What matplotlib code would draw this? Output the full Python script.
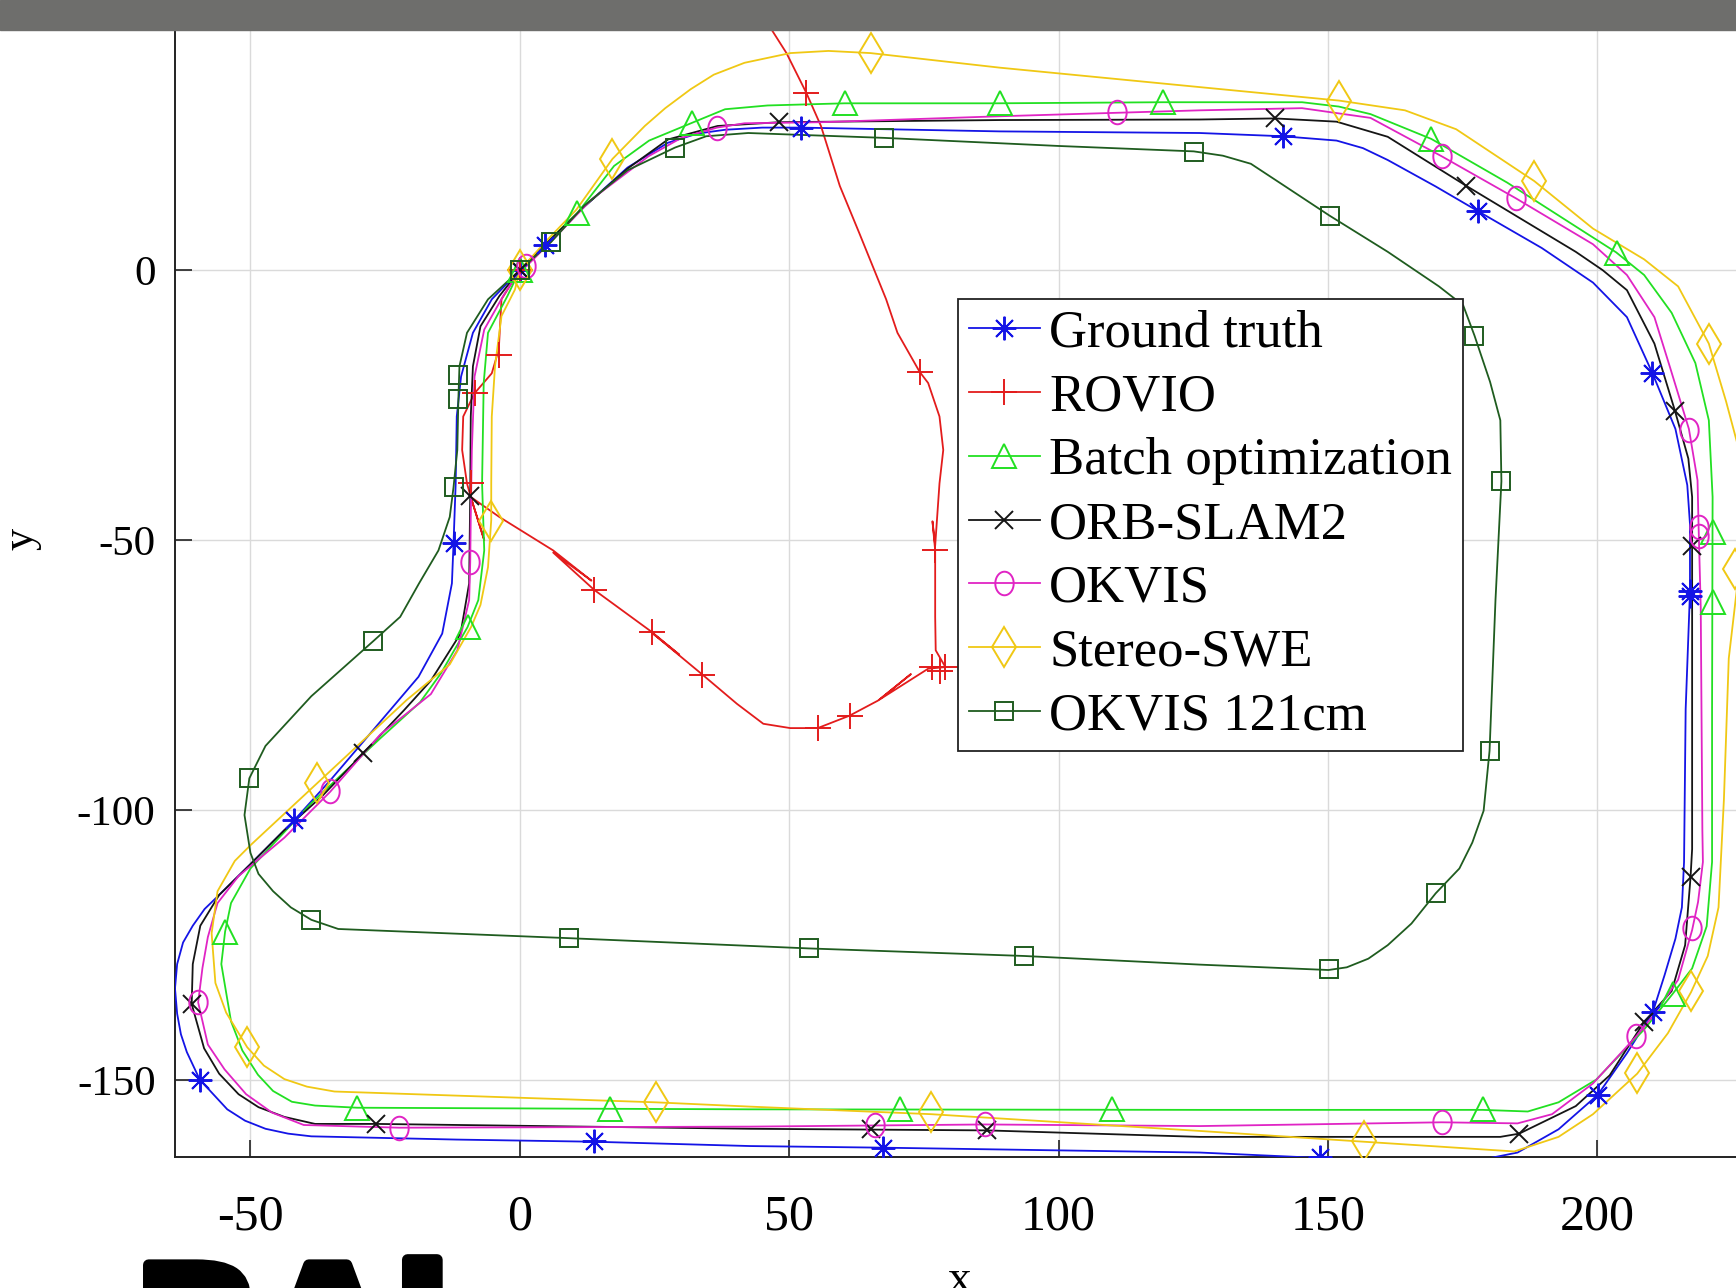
import matplotlib
matplotlib.use("Agg")
import matplotlib.pyplot as plt
import matplotlib.patheffects as pe
import numpy as np
from matplotlib.lines import Line2D
from matplotlib.patches import Rectangle
from matplotlib.path import Path

plt.rcParams["axes.unicode_minus"] = False

# trajectories (x, y), plus the points that carry markers
gt_path = [(0, 0), (4.6, 4.6), (12, 11.8), (20, 19.0), (27.5, 23.6), (33, 25.3), (38.1, 26.0), (45, 26.4),
           (52.2, 26.4), (89.1, 25.7), (126.2, 25.4), (141.6, 24.8), (151.6, 24.0), (156.5, 22.6), (161.1, 20.4),
           (170, 15.5), (177.9, 10.9), (189.7, 4.1), (199.2, -2.3), (205.5, -8.7), (210.2, -19.0), (214.5, -29.4),
           (216.7, -39.8), (217.2, -47), (217.2, -59.6), (216.4, -81.3), (216.1, -109.6), (215.7, -118),
           (214.5, -123.8), (212.5, -130.5), (210.3, -137.4), (205.5, -145), (200.1, -152.7), (192.8, -159.1),
           (185.2, -163.4), (178.2, -164.8), (148.5, -164.4), (126.2, -163.4), (67.4, -162.5), (42.8, -162.2),
           (13.8, -161.4), (-11.7, -161.0), (-38.7, -160.4), (-43, -159.9), (-47.2, -159.0), (-51, -157.5),
           (-54.3, -155.4), (-59.4, -149.9), (-61.8, -144.8), (-62.9, -141.5), (-63.6, -137.7), (-64, -133),
           (-63.6, -128.5), (-62.5, -124.5), (-60.7, -121.4), (-58.5, -118.3), (-55.8, -115.7), (-50.0, -110.0),
           (-41.9, -101.9), (-35.2, -94.5), (-27.5, -85.5), (-18.8, -75.3), (-14.4, -67.3), (-12.6, -58),
           (-12.3, -50.6), (-11.9, -39.5), (-11.7, -27.1), (-10.9, -19.7), (-8.7, -11.6), (-5.2, -5.4), (0, 0)]
gt_marks = [(4.6, 4.6), (52.2, 26.4), (141.6, 24.8), (177.9, 10.9), (210.2, -19.0), (217.2, -59.4),
            (217.2, -60.3), (210.3, -137.4), (200.1, -152.7), (148.5, -164.2), (67.4, -162.5), (13.8, -161.3),
            (-59.4, -149.9), (-41.9, -101.9), (-12.3, -50.5), (0, 0)]

rovio_path = [(0, 0), (-3.4, -5.4), (-3.9, -14.7), (-5.2, -19.1), (-8.4, -22.8), (-10.5, -27.1), (-10.7, -33.3),
              (-9.8, -39.5), (-9.1, -42.0), (-6.6, -50.0), (-9.1, -42.0), (-3.8, -45.7), (6.2, -51.9),
              (13.3, -57.5), (6.2, -52.3), (13.8, -59.2), (24.5, -67.0), (29.6, -71.2), (24.6, -67.2),
              (33.9, -74.9), (40.3, -80.3), (45.2, -84.0), (50.2, -84.8), (55.3, -84.8), (61.2, -82.5),
              (66.5, -79.7), (72.6, -74.8), (66.8, -79.5), (75.8, -73.8), (79.0, -73.5), (77.2, -70.4),
              (77.1, -64.2), (77.1, -51.9), (76.6, -46.5), (77.1, -51.0), (77.9, -39.5), (78.6, -33.3),
              (77.9, -27.1), (75.8, -20.9), (74.2, -18.8), (70.1, -11.6), (68.0, -5.4), (63.0, 6.9),
              (59.4, 15.6), (55.9, 26.7), (53.2, 32.8), (49.5, 40.2), (46.7, 44.6), (45.0, 48)]
rovio_marks = [(53.2, 32.8), (74.2, -18.8), (77.1, -51.9), (76.5, -73.5), (78.0, -74.3), (79.0, -73.5),
               (61.2, -82.5), (55.3, -84.8), (33.9, -74.9), (24.5, -67.0), (13.8, -59.2), (-8.4, -22.8),
               (-3.9, -15.8), (-9.1, -39.5), (0, 0)]

batch_path = [(0, 0), (4.5, 4.6), (10.7, 10.6), (17.5, 19.3), (24, 24), (32, 27.3), (38.1, 29.8), (46, 30.5),
              (60.3, 30.9), (88.6, 30.9), (119.3, 31.1), (145.2, 31.1), (152, 30.3), (157.9, 28.9), (169.2, 24.3),
              (183.3, 16.2), (203.5, 3.3), (208.7, -0.9), (213.8, -7.9), (218.2, -17.2), (220.7, -27.8),
              (221.4, -42), (221.3, -81.3), (221.3, -109.6), (220.3, -121.5), (217.6, -129.3), (214, -134),
              (208.7, -140.6), (199.8, -149.9), (192.8, -154.1), (187.1, -155.8), (178.7, -155.5),
              (126.2, -155.5), (42.8, -155.4), (16.7, -155.3), (-30.2, -155.1), (-38, -154.7), (-42.3, -154),
              (-45.8, -152), (-48.6, -149), (-51.5, -144.5), (-53.6, -139.1), (-55.4, -128.5), (-54.7, -122.5),
              (-53.6, -117.2), (-50, -110.8), (-38.7, -98.7), (-25.9, -86.7), (-18.5, -80.0), (-14.6, -74.6),
              (-9.7, -66.1), (-7.7, -61.1), (-6.6, -51.9), (-7, -39.5), (-6.7, -20.9), (-5.9, -11.6),
              (-2.3, -4.8), (0, 0)]
batch_marks = [(10.7, 10.6), (32, 27.3), (60.3, 30.9), (89.1, 30.9), (119.3, 31.1), (169.2, 24.3),
               (203.6, 3.2), (221.4, -48.5), (221.4, -61.5), (214, -134.0), (178.8, -155.3), (109.9, -155.3),
               (70.6, -155.3), (16.8, -155.3), (-30.3, -155.1), (-54.7, -122.5), (-9.7, -66.1), (0, 0)]

orb_path = [(0, 0), (5, 5), (12, 11.8), (20, 18.8), (27.5, 24.2), (36.7, 26.7), (48.1, 27.4), (89.1, 27.8),
            (126.2, 27.9), (140.2, 28.1), (151.6, 27.5), (161.1, 24.7), (175.7, 15.6), (196, 3.4), (201, 0),
            (205.5, -3.7), (210.6, -13.6), (214.4, -26.0), (216.9, -34.9), (217.6, -42), (217.6, -51.1),
            (217.6, -81.3), (217.6, -107.2), (217.3, -112.5), (216.3, -125), (213.8, -133.5), (208.7, -139.2),
            (202.3, -149.1), (196, -154.8), (185.5, -159.9), (182, -160.5), (126.2, -160.5), (86.7, -159.3),
            (42.8, -159), (-26.6, -158.1), (-38, -158.1), (-43.7, -156.8), (-48.5, -155), (-52.2, -152.6),
            (-55.8, -148.8), (-58.6, -144.1), (-60.9, -135.9), (-60.7, -128.5), (-59.3, -121.4), (-55.8, -115.7),
            (-50, -110), (-43.7, -103.7), (-36.6, -97.3), (-29.1, -89.5), (-21.5, -81.5), (-16.5, -76),
            (-11, -67.3), (-9.4, -58), (-9.2, -41.8), (-9.1, -27.1), (-8.7, -17.8), (-7.3, -10.4), (-3.8, -4.8),
            (0, 0)]
orb_marks = [(0, 0), (48.1, 27.4), (140.2, 28.1), (175.7, 15.6), (214.4, -26), (217.6, -51.1), (217.3, -112.4),
             (208.7, -139.2), (185.5, -159.9), (86.7, -159.3), (65.1, -159.1), (-26.6, -158.1), (-60.9, -135.9),
             (-29.1, -89.5), (-9.2, -41.8)]

okvis_path = [(0, 0), (1.2, 0.7), (6.2, 5.7), (13.3, 13.1), (23.9, 21.1), (30, 24.5), (36.6, 26.4), (41.7, 27.2),
              (55.9, 27.4), (89.1, 28.5), (126.2, 29.6), (145.2, 30.0), (157.9, 28.2), (171.1, 21.1),
              (184.9, 13.3), (199.2, 4.8), (205.5, -0.9), (210.6, -8.7), (213.5, -18), (217, -29.4),
              (218.6, -38.9), (218.8, -47.5), (219.2, -62.5), (219.5, -103.7), (219.6, -109.6), (218.7, -117),
              (217.6, -122.2), (215, -131.4), (210.6, -137.8), (207.2, -141.9), (199.2, -150.6), (191.6, -156.3),
              (185.2, -158.0), (171.1, -157.8), (126.2, -158.5), (86.4, -158.2), (42.8, -158.6), (-22.4, -158.8),
              (-40.1, -158.3), (-46, -156), (-50.8, -152.6), (-54.8, -148), (-57.9, -143.4), (-59.7, -135.6),
              (-58.9, -129.2), (-57.9, -123.5), (-56.1, -117.2), (-52.2, -112.2), (-43.7, -105.1), (-35.2, -96.6),
              (-25.9, -86), (-16.5, -78.5), (-11.6, -70.4), (-9.4, -61.1), (-9.2, -54.1), (-9.1, -45.7),
              (-8.9, -33.3), (-8.4, -19.7), (-6.6, -11), (-3.1, -4.8), (0, 0)]
okvis_marks = [(1.2, 0.7), (36.6, 26.4), (110.9, 29.3), (171.1, 21.1), (184.9, 13.3), (217, -29.6),
               (218.8, -47.5), (218.8, -49.3), (217.5, -121.9), (207.2, -141.9), (171.1, -157.8), (86.4, -158.2),
               (65.9, -158.3), (-22.4, -158.8), (-59.7, -135.6), (-35.2, -96.5), (-9.2, -54.1)]

swe_path = [(0, 0), (5, 5.5), (10.5, 11.2), (17.2, 20.6), (23.2, 26.7), (27, 30), (31.7, 33.5), (36, 36.2),
            (41.7, 38.4), (50.2, 40.2), (57.3, 40.6), (65.1, 40.2), (89.1, 37.5), (126.2, 33.9), (152.1, 31.4),
            (164.3, 29.6), (173.8, 26.1), (188.3, 16.5), (199.2, 7.7), (208.7, 2), (215, -3), (220.7, -13.6),
            (223.9, -24.3), (226.5, -34), (227.5, -43), (226.5, -54), (224.4, -71.9), (223.5, -98),
            (222.5, -118), (220.5, -127), (217.4, -133.7), (213.1, -141.3), (207.4, -148.8), (199.2, -156.3),
            (192.8, -160.5), (184.6, -163.2), (156.7, -161.4), (126.2, -159.4), (76.4, -156.3), (42.8, -154.9),
            (25.2, -154.1), (-34.4, -152.1), (-39.5, -151.2), (-43.7, -149.8), (-47.5, -147.3), (-50.6, -143.9),
            (-54.5, -137.5), (-56.5, -132), (-57.2, -122.8), (-56.1, -115), (-52.9, -109.4), (-50, -106.5),
            (-37.6, -95), (-21, -79.6), (-13, -73), (-9, -66), (-7.3, -62), (-5.9, -55), (-5.3, -46.3),
            (-5.3, -39.5), (-5.2, -27.1), (-4.6, -17.8), (-3.4, -8.5), (-0.9, -3.6), (0, 0)]
swe_marks = [(0, 0), (17.2, 20.6), (65.1, 40.2), (152.1, 31.4), (188.3, 16.5), (220.7, -13.6), (225.5, -55.3),
             (217.4, -133.4), (207.4, -148.6), (156.7, -161.3), (76.4, -155.9), (25.2, -154.0), (-50.6, -143.8),
             (-37.6, -95), (-5.3, -46.5)]

okvis121_path = [(0, 0), (5.8, 5.2), (12, 12), (20, 18.5), (28.8, 22.7), (34.6, 24.8), (42.4, 25.4), (67.6, 24.5),
                 (100, 23.0), (125.1, 22.0), (130.5, 21.2), (135.7, 19.7), (142.1, 15.5), (150.3, 10.1),
                 (161.1, 3.4), (170.6, -3), (175.1, -6.5), (177.2, -12.1), (180.1, -20.7), (182, -27.8),
                 (182.2, -39.1), (181.7, -49.1), (181.1, -61.1), (180, -89), (178.9, -100.1), (176.8, -106),
                 (174.4, -110.8), (170, -115.4), (165.5, -121), (161.1, -125), (157.5, -127.5), (153.5, -129.1),
                 (150.1, -129.6), (126.2, -128.6), (93.6, -127), (53.6, -125.6), (9.1, -123.7), (-33.7, -122),
                 (-38.7, -120.3), (-42.5, -118), (-45.8, -115), (-48.5, -111.8), (-50, -107.9), (-51.1, -100.9),
                 (-50.2, -94.1), (-47.2, -88.1), (-38.7, -78.9), (-27.2, -68.7), (-22.2, -64.2), (-18.7, -58),
                 (-15.1, -51.9), (-13, -45.7), (-12.3, -40.2), (-11.6, -33.3), (-11.4, -23.9), (-11.2, -17.8),
                 (-9.8, -11.6), (-5.9, -5.4), (0, 0)]
okvis121_marks = [(0, 0), (5.8, 5.2), (28.8, 22.7), (67.6, 24.5), (125.1, 21.9), (150.3, 10.1), (177.2, -12.1),
                  (182.2, -39.1), (180, -89), (170, -115.4), (150.2, -129.4), (93.6, -127), (53.6, -125.6),
                  (9.1, -123.6), (-38.7, -120.3), (-50.2, -94.1), (-27.2, -68.7), (-12.2, -40.2), (-11.4, -23.9),
                  (-11.4, -19.4)]

labels = ["Ground truth", "ROVIO", "Batch optimization", "ORB-SLAM2", "OKVIS", "Stereo-SWE", "OKVIS 121cm"]
x_ticks = [-50, 0, 50, 100, 150, 200]
y_ticks = [-150, -100, -50, 0]

# marker shapes close to the MATLAB ones
t = np.linspace(0, 2 * np.pi, 41)
ellipse = Path(np.column_stack([0.78 * np.cos(t), np.sin(t)]))

series = [
    (gt_path, gt_marks, "#1414e6", (8, 2, 0), 17),
    (rovio_path, rovio_marks, "#e31c1c", "+", 19),
    (batch_path, batch_marks, "#22e022", "^", 17),
    (orb_path, orb_marks, "#151515", "x", 13),
    (okvis_path, okvis_marks, "#e024c4", ellipse, 17),
    (swe_path, swe_marks, "#f0c814", "d", 20),
    (okvis121_path, okvis121_marks, "#1f5c1f", "s", 13),
]

serif = "Liberation Serif"
fig = plt.figure(figsize=(17.36, 12.88), dpi=100)
ax = fig.add_axes([0.1008, 0.1014, 0.9031, 0.9601])

handles = []
for (path, marks, col, mk, ms), lab in zip(series, labels):
    px, py = zip(*path)
    mx, my = zip(*marks)
    ax.plot(px, py, color=col, lw=1.3, zorder=3)
    ax.plot(mx, my, ls="none", marker=mk, ms=ms, mfc="none", mec=col, mew=1.4, zorder=4)
    handles.append(Line2D([], [], color=col, lw=1.3, marker=mk, ms=ms, mfc="none", mec=col, mew=1.4))

ax.set_xlim(-64, 227)
ax.set_ylim(-164.3, 64.7)
ax.set_xticks(x_ticks)
ax.set_yticks(y_ticks)
ax.grid(True, color="#dadada", lw=1.0)
ax.set_axisbelow(True)
ax.tick_params(direction="in", length=12, width=1.2, color="#222222")
ax.tick_params(axis="x", labelsize=36, pad=26)
ax.tick_params(axis="y", labelsize=31, pad=14)
for lb in ax.get_xticklabels() + ax.get_yticklabels():
    lb.set_family(serif)
for s in ["top", "right"]:
    ax.spines[s].set_visible(False)
for s in ["left", "bottom"]:
    ax.spines[s].set_color("#222222")
    ax.spines[s].set_linewidth(1.4)

ax.set_ylabel("y", family=serif, fontsize=32, rotation=90)
ax.yaxis.set_label_coords(-0.085, 0.5)
fig.text(959 / 1736, 0.0225, "x", family=serif, fontsize=34, ha="center", va="top")

leg = ax.legend(handles, labels, loc="upper left", bbox_to_anchor=(958 / 1736, 1 - 299 / 1288),
                bbox_transform=fig.transFigure, borderaxespad=0, prop={"family": serif, "size": 38},
                numpoints=1, handlelength=1.36, handletextpad=0.17, borderpad=0.2, labelspacing=0.3,
                fancybox=False, framealpha=1)
leg.get_frame().set_edgecolor("#222222")
leg.get_frame().set_linewidth(1.3)

# grey strip at the top and cut-off heading at the bottom of the screenshot
fig.add_artist(Rectangle((0, 1 - 30 / 1288), 1, 30 / 1288, transform=fig.transFigure,
                         color="#6e6e6c", zorder=10))
fig.text(133 / 1736, -0.078, "BAl", fontsize=122, fontweight="bold", family="DejaVu Sans",
         color="black", ha="left", va="baseline",
         path_effects=[pe.withStroke(linewidth=8, foreground="black")])

fig.savefig("out.png", dpi=100)
